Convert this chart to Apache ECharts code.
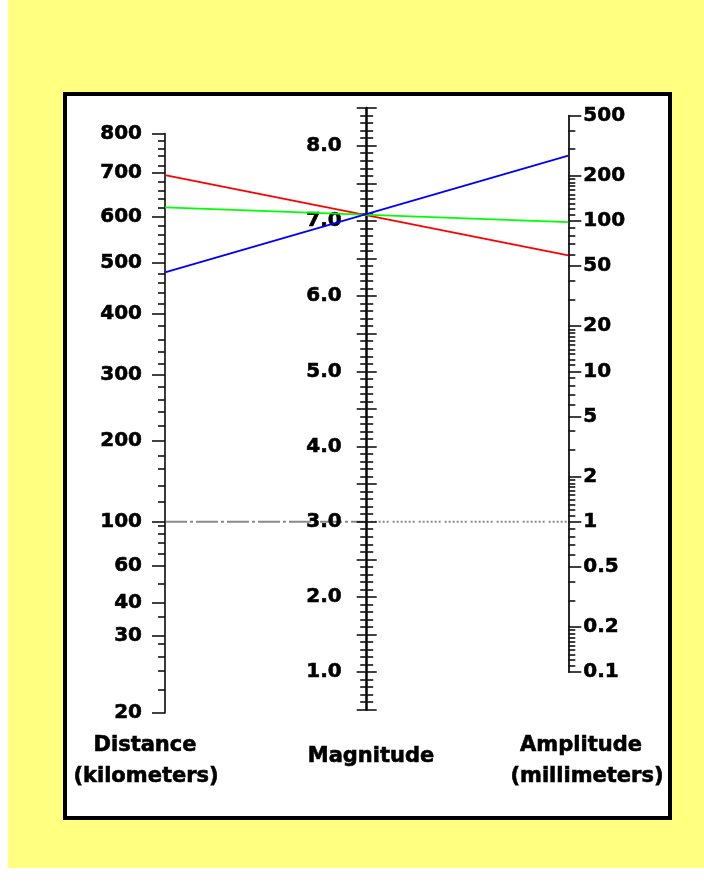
<!DOCTYPE html>
<html>
<head>
<meta charset="utf-8">
<script src="https://cdn.jsdelivr.net/npm/echarts@6/dist/echarts.min.js"></script>
<style>html,body{margin:0;padding:0;background:#fff}#c{width:704px;height:886px}</style>
</head>
<body>
<div id="c"></div>
<script>
// ---- Distance scale (km) with Richter correction (-log A0) ----
const distanceLabels = [800, 700, 600, 500, 400, 300, 200, 100, 60, 40, 30, 20];
const distanceLabelCorr = [5.58, 5.32, 5.03, 4.72, 4.38, 3.98, 3.54, 3.00, 2.71, 2.46, 2.24, 1.73];
const distanceMinor = [780, 760, 740, 720, 680, 660, 640, 620, 580, 560, 540, 520, 480, 460, 440, 420,
  380, 360, 340, 320, 280, 260, 240, 220, 180, 160, 140, 120, 95, 90, 80, 70, 50, 35, 28, 26, 24, 22];
const distanceMinorCorr = [5.53, 5.48, 5.43, 5.37, 5.26, 5.20, 5.15, 5.09, 4.97, 4.91, 4.85, 4.78, 4.65, 4.59, 4.52, 4.45,
  4.30, 4.21, 4.13, 4.05, 3.90, 3.81, 3.73, 3.64, 3.44, 3.35, 3.24, 3.13, 2.97, 2.92, 2.86, 2.79, 2.59, 2.37, 2.19, 2.10, 2.01, 1.88];

// ---- Magnitude scale ----
const magnitudeMin = 0.5, magnitudeMax = 8.5, magnitudeStep = 0.5;

// ---- Amplitude scale (mm, logarithmic) ----
const amplitudeLabels = [500, 200, 100, 50, 20, 10, 5, 2, 1, 0.5, 0.2, 0.1];
const amplitudeMinor = [400, 300, 190, 180, 170, 160, 150, 140, 130, 120, 110, 90, 80, 70, 60, 40, 30,
  19, 18, 17, 16, 15, 14, 13, 12, 11, 9, 8, 7, 6, 4, 3,
  1.9, 1.8, 1.7, 1.6, 1.5, 1.4, 1.3, 1.2, 1.1, 0.9, 0.8, 0.7, 0.6, 0.4, 0.3,
  0.19, 0.18, 0.17, 0.16, 0.15, 0.14, 0.13, 0.12, 0.11];

// ---- Reference event and measured stations ----
const referenceDistance = 100, referenceAmplitude = 1;
const stationDistances = [695, 620, 482];
const stationAmplitudes = [59, 98, 272];
const stationColors = ['#ff0000', '#00ff00', '#0000ff'];

// ---- scale helpers (nomogram: middle = mean of outer scales) ----
const distTable = distanceLabels.map((d, i) => [d, distanceLabelCorr[i]])
  .concat(distanceMinor.map((d, i) => [d, distanceMinorCorr[i]]))
  .sort((a, b) => a[0] - b[0]);
function corrAt(d) {
  for (let i = 0; i < distTable.length - 1; i++) {
    const a = distTable[i], b = distTable[i + 1];
    if (d >= a[0] && d <= b[0]) return a[1] + (b[1] - a[1]) * (d - a[0]) / (b[0] - a[0]);
  }
  return d < distTable[0][0] ? distTable[0][1] : distTable[distTable.length - 1][1];
}
const distY = g => 2 * g - 3;           // distance correction -> magnitude units
const ampY = la => 3 + 2 * la;          // log10 amplitude -> magnitude units

// ---- layout: pixel of magnitude unit ----
const PXM = 75.2, Y3PX = 521.7;
const px = Y => Y3PX - (Y - 3) * PXM;
const xLeft = 165, xMid = 366.7, xRight = 568.3;

const dCorrAll = distanceLabelCorr.concat(distanceMinorCorr);
const gMin = Math.min(...dCorrAll), gMax = Math.max(...dCorrAll);
const ampLabelLog = amplitudeLabels.map(Math.log10);
const ampMinorLog = amplitudeMinor.map(Math.log10);
const aMin = Math.min(...ampLabelLog), aMax = Math.max(...ampLabelLog);

const FONT = {fontFamily: 'DejaVu Sans', fontWeight: 'bold', fontSize: 20, color: '#000',
  textBorderColor: '#000', textBorderWidth: 0.6};
const tickStyle = {color: '#111', width: 1.6};

function gridAt(left, width, yTop, yBottom) {
  return {left: left, width: width, top: px(yTop), height: px(yBottom) - px(yTop),
    containLabel: false, outerBoundsMode: 'none'};
}

const grids = [
  gridAt(xLeft, xRight - xLeft, magnitudeMax, magnitudeMin),     // lines
  gridAt(xLeft, 10, distY(gMax), distY(gMin)),                    // distance
  gridAt(xMid, 10, magnitudeMax, magnitudeMin),                   // magnitude
  gridAt(xRight, 10, ampY(aMax), ampY(aMin))                      // amplitude
];
const xAxes = grids.map((g, i) => ({gridIndex: i, type: 'value', min: 0, max: i === 0 ? 2 : 1, show: false}));

const lookup = (vals, labels) => v => {
  const i = vals.findIndex(c => Math.abs(c - v) < 1e-6);
  return i >= 0 ? String(labels[i]) : '';
};

const yAxes = [
  {gridIndex: 0, type: 'value', min: magnitudeMin, max: magnitudeMax, show: false},
  {gridIndex: 1, type: 'value', min: gMin, max: gMax, position: 'left', z: 2,
    axisLine: {show: true, onZero: false, lineStyle: {color: '#3a3a3a', width: 2}},
    axisTick: {show: true, customValues: distanceLabelCorr, length: 13, lineStyle: tickStyle},
    axisLabel: Object.assign({show: true, customValues: distanceLabelCorr, margin: 23,
      formatter: lookup(distanceLabelCorr, distanceLabels)}, FONT),
    splitLine: {show: false}},
  {gridIndex: 1, type: 'value', min: gMin, max: gMax, position: 'left', z: 2,
    axisLine: {show: false, onZero: false},
    axisTick: {show: true, customValues: distanceMinorCorr, length: 7, lineStyle: tickStyle},
    axisLabel: {show: false}, splitLine: {show: false}},
  {gridIndex: 2, type: 'value', min: magnitudeMin, max: magnitudeMax, interval: magnitudeStep, position: 'left', z: 2,
    axisLine: {show: true, onZero: false, lineStyle: {color: '#000', width: 2.5}},
    axisTick: {show: true, length: 10, lineStyle: tickStyle},
    minorTick: {show: true, splitNumber: 5, length: 6.5, lineStyle: tickStyle},
    axisLabel: Object.assign({show: true, margin: 25,
      formatter: v => Number.isInteger(v) ? v.toFixed(1) : ''}, FONT),
    splitLine: {show: false}, minorSplitLine: {show: false}},
  {gridIndex: 2, type: 'value', min: magnitudeMin, max: magnitudeMax, interval: magnitudeStep, position: 'left', z: 2,
    axisLine: {show: false, onZero: false},
    axisTick: {show: true, inside: true, length: 10, lineStyle: tickStyle},
    minorTick: {show: true, splitNumber: 5, length: 6.5, lineStyle: tickStyle},
    axisLabel: {show: false}, splitLine: {show: false}, minorSplitLine: {show: false}},
  {gridIndex: 3, type: 'value', min: aMin, max: aMax, position: 'left', z: 2,
    axisLine: {show: true, onZero: false, lineStyle: {color: '#2a2a2a', width: 2}},
    axisTick: {show: true, inside: true, customValues: ampLabelLog, length: 13, lineStyle: tickStyle},
    axisLabel: Object.assign({show: true, inside: true, customValues: ampLabelLog, margin: 15,
      formatter: lookup(ampLabelLog, amplitudeLabels)}, FONT),
    splitLine: {show: false}},
  {gridIndex: 3, type: 'value', min: aMin, max: aMax, position: 'left', z: 2,
    axisLine: {show: false, onZero: false},
    axisTick: {show: true, inside: true, customValues: ampMinorLog, length: 7, lineStyle: tickStyle},
    axisLabel: {show: false}, splitLine: {show: false}}
];

const refLeftY = distY(corrAt(referenceDistance));
const refRightY = ampY(Math.log10(referenceAmplitude));
const refMidY = (refLeftY + refRightY) / 2;

const series = [
  {type: 'line', xAxisIndex: 0, yAxisIndex: 0, z: 1, symbol: 'none', silent: true,
    data: [[0, refLeftY], [1, refMidY]],
    lineStyle: {color: '#8a8a8a', width: 2, type: [22, 3, 3, 3]}},
  {type: 'line', xAxisIndex: 0, yAxisIndex: 0, z: 1, symbol: 'none', silent: true,
    data: [[1, refMidY], [2, refRightY]],
    lineStyle: {color: '#8a8a8a', width: 2, type: [2, 2, 2, 2, 2, 2, 2, 2, 2, 2, 2, 4]}}
].concat(stationDistances.map((d, i) => ({
  type: 'line', xAxisIndex: 0, yAxisIndex: 0, z: 5, symbol: 'none', silent: true,
  data: [[0, distY(corrAt(d))], [2, ampY(Math.log10(stationAmplitudes[i]))]],
  lineStyle: {color: stationColors[i], width: 1.8}
})));

const titleFont = "bold 21px 'DejaVu Sans'";
const tStyle = t => ({text: t, font: titleFont, fill: '#000', stroke: '#000', lineWidth: 0.6,
  textAlign: 'center', textVerticalAlign: 'middle'});
const graphic = [
  {type: 'rect', z: -20, shape: {x: 8, y: 0, width: 696, height: 868}, style: {fill: '#ffff80'}},
  {type: 'rect', z: -10, shape: {x: 65, y: 94, width: 605, height: 724}, style: {fill: '#fff', stroke: '#000', lineWidth: 4}},
  {type: 'text', x: 145, y: 746, style: tStyle('Distance')},
  {type: 'text', x: 146, y: 777, style: tStyle('(kilometers)')},
  {type: 'text', x: 371, y: 757, style: tStyle('Magnitude')},
  {type: 'text', x: 581, y: 746, style: tStyle('Amplitude')},
  {type: 'text', x: 587, y: 777, style: tStyle('(millimeters)')}
];

const chart = echarts.init(document.getElementById('c'), null, {renderer: 'canvas'});
chart.setOption({
  backgroundColor: '#ffffff',
  animation: false,
  grid: grids,
  xAxis: xAxes,
  yAxis: yAxes,
  series: series,
  graphic: graphic
});
</script>
</body>
</html>
